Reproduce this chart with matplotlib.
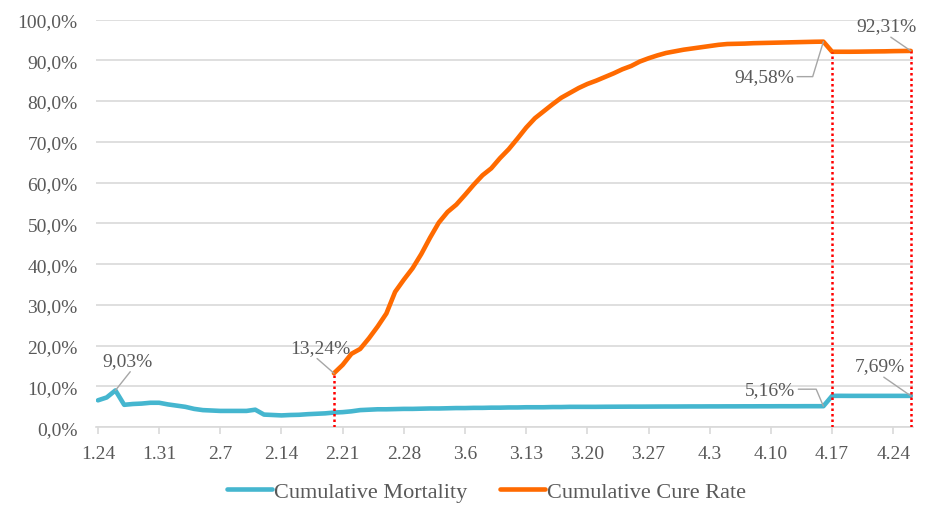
import numpy as np
import matplotlib
matplotlib.use("Agg")
import matplotlib.pyplot as plt

# daily values, day 0 = 1.24 (Wuhan, 2020)
tick_labels = ['1.24', '1.31', '2.7', '2.14', '2.21', '2.28', '3.6', '3.13',
               '3.20', '3.27', '4.3', '4.10', '4.17', '4.24']

mortality = [
    6.6, 7.3, 9.03, 5.5, 5.7, 5.8, 6.0, 6.0, 5.6, 5.3,
    5.0, 4.5, 4.2, 4.1, 4.0, 4.0, 4.0, 4.0, 4.3, 3.1,
    3.0, 2.9, 3.0, 3.05, 3.2, 3.3, 3.4, 3.6, 3.7, 3.9,
    4.2, 4.3, 4.4, 4.4, 4.45, 4.5, 4.5, 4.55, 4.6, 4.6,
    4.65, 4.7, 4.7, 4.75, 4.75, 4.8, 4.8, 4.85, 4.85, 4.9,
    4.9, 4.9, 4.95, 4.95, 5.0, 5.0, 5.0, 5.0, 5.02, 5.03,
    5.04, 5.05, 5.05, 5.06, 5.07, 5.08, 5.08, 5.09, 5.1, 5.1,
    5.11, 5.11, 5.12, 5.12, 5.13, 5.13, 5.14, 5.14, 5.15, 5.15,
    5.15, 5.16, 5.16, 5.16,
    7.70, 7.70, 7.69, 7.69, 7.69, 7.69, 7.69, 7.69, 7.69, 7.69,
]

cure_start = 27  # 2.20
cure_rate = [
    13.24, 15.3, 18.0, 19.2, 21.8, 24.7, 27.9, 33.2, 36.2, 39.0,
    42.5, 46.5, 50.2, 52.8, 54.6, 57.0, 59.5, 61.8, 63.5, 66.0,
    68.2, 70.8, 73.5, 75.8, 77.5, 79.2, 80.8, 82.0, 83.2, 84.2,
    85.0, 85.9, 86.8, 87.8, 88.6, 89.7, 90.5, 91.2, 91.8, 92.2,
    92.6, 92.9, 93.2, 93.5, 93.8, 94.0, 94.05, 94.1, 94.2, 94.25,
    94.3, 94.35, 94.4, 94.45, 94.5, 94.55, 94.58,
    92.1, 92.1, 92.1, 92.12, 92.15, 92.18, 92.2, 92.25, 92.28, 92.31,
]

marked_days = [27, 84, 93]  # red dotted guides

c_mort = '#45B6CF'
c_cure = '#FF6A00'
c_text = '#595959'
c_grid = '#D9D9D9'

plt.rcParams['font.family'] = ['Liberation Serif', 'DejaVu Serif']

days = np.arange(len(mortality))
cure_days = np.arange(cure_start, cure_start + len(cure_rate))
cure_by_day = dict(zip(cure_days, cure_rate))

fig = plt.figure(figsize=(9.27, 5.06), dpi=100)
ax = fig.add_axes([0.1033, 0.1537, 0.8811, 0.8057])

ax.plot(days, mortality, color=c_mort, lw=3.3, solid_joinstyle='round',
        solid_capstyle='round', label='Cumulative Mortality', zorder=3)
ax.plot(cure_days, cure_rate, color=c_cure, lw=3.3, solid_joinstyle='round',
        solid_capstyle='round', label='Cumulative Cure Rate', zorder=3)

ax.vlines(marked_days, 0, [cure_by_day[d] for d in marked_days], colors='#FF0000',
          linestyles=(0, (1, 1.2)), lw=1.8, zorder=4)

ax.set_xlim(-0.25, 93.2)
ax.set_ylim(0, 100)
ax.set_yticks(np.arange(0, 101, 10))
ax.set_yticklabels([f'{v},0%' for v in range(0, 101, 10)])
ax.set_xticks(np.arange(len(tick_labels)) * 7)
ax.set_xticklabels(tick_labels)

ax.grid(axis='y', color=c_grid, lw=1.2)
ax.set_axisbelow(True)
for s in ['top', 'right', 'left']:
    ax.spines[s].set_visible(False)
ax.spines['bottom'].set_color(c_grid)
ax.spines['bottom'].set_linewidth(1.2)
ax.tick_params(axis='y', length=0, pad=13, labelsize=14, labelcolor=c_text)
ax.tick_params(axis='x', length=5, width=1.2, color=c_grid, pad=8,
               labelsize=14, labelcolor=c_text)

lead = dict(arrowstyle='-', color='#A6A6A6', lw=1, shrinkA=0, shrinkB=0)

def label(day, val, text, dx, dy, relpos=(0.5, 0), conn=None):
    props = dict(lead, relpos=relpos)
    if conn:
        props['connectionstyle'] = conn
    ax.annotate(text, xy=(day, val), xytext=(dx, dy), textcoords='offset pixels',
                ha='center', va='center', fontsize=14, color=c_text,
                arrowprops=props, zorder=5)

label(2, mortality[2], '9,03%', 12, 30, relpos=(0.6, 0))
label(27, cure_by_day[27], '13,24%', -14, 26, relpos=(0.4, 0))
label(83, mortality[83], '5,16%', -53, 17, relpos=(1, 0.5),
      conn='angle,angleA=0,angleB=113,rad=0')
label(83, cure_by_day[83], '94,58%', -59, -35, relpos=(1, 0.5),
      conn='angle,angleA=0,angleB=73,rad=0')
label(93, mortality[93], '7,69%', -31, 30, relpos=(0.5, 0))
label(93, cure_by_day[93], '92,31%', -24, 25, relpos=(0.5, 0))

fig.legend(loc='center', bbox_to_anchor=(0.525, 0.026), ncol=2, frameon=False,
           fontsize=16, labelcolor=c_text, handlelength=2.0, handletextpad=0.1,
           columnspacing=1.5)

fig.savefig('out.png', dpi=100)
